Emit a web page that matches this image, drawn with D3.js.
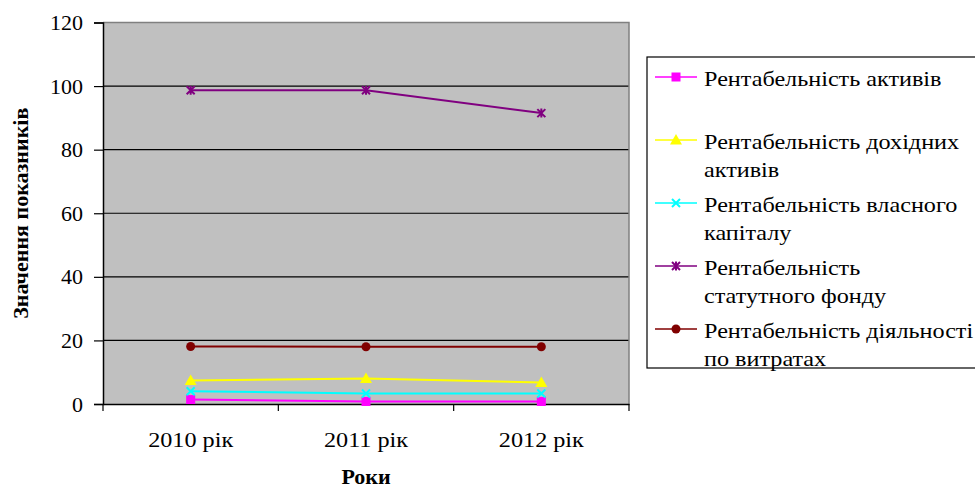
<!DOCTYPE html>
<html>
<head>
<meta charset="utf-8">
<script src="https://cdn.jsdelivr.net/npm/d3@7"></script>
<style>
  body { margin: 0; background: #fff; }
</style>
</head>
<body>
<div id="chart"></div>
<script>
// дані з діаграми
const years = ["2010 рік", "2011 рік", "2012 рік"];
const yTicks = [0, 20, 40, 60, 80, 100, 120];

const seriesNames = [
  ["Рентабельність активів"],
  ["Рентабельність дохідних", "активів"],
  ["Рентабельність власного", "капіталу"],
  ["Рентабельність", "статутного фонду"],
  ["Рентабельність діяльності", "по витратах"]
];
const rentAktyviv = [1.4, 0.8, 0.8];
const rentDohidnyh = [7.4, 8.0, 6.8];
const rentKapitalu = [4.0, 3.3, 3.3];
const rentFondu = [98.7, 98.7, 91.5];
const rentVytrat = [18.1, 18.0, 18.0];

const colors = ["#FF00FF", "#FFFF00", "#00FFFF", "#800080", "#800000"];
const markers = ["square", "triangle", "x", "star", "circle"];
const series = [rentAktyviv, rentDohidnyh, rentKapitalu, rentFondu, rentVytrat];

// Liberation Serif тут без кирилиці, тому Times
const FONT = "Times, serif";
const width = 975, height = 488;
const plot = { left: 103, top: 22.5, right: 629, bottom: 404 };

const svg = d3.select("#chart").append("svg")
  .attr("width", width)
  .attr("height", height);

const x = d3.scaleBand()
  .domain(years)
  .range([plot.left, plot.right]);

const y = d3.scaleLinear()
  .domain([0, 120])
  .range([plot.bottom, plot.top]);

// фон області побудови
svg.append("rect")
  .attr("x", plot.left).attr("y", plot.top)
  .attr("width", plot.right - plot.left)
  .attr("height", plot.bottom - plot.top)
  .attr("fill", "#C0C0C0");

// сітка
svg.append("g")
  .selectAll("line")
  .data(yTicks.filter(d => d > 0 && d < 120))
  .join("line")
  .attr("x1", plot.left).attr("x2", plot.right)
  .attr("y1", d => y(d)).attr("y2", d => y(d))
  .attr("stroke", "#000").attr("stroke-width", 1.2);

// рамка зверху і справа
svg.append("path")
  .attr("d", `M${plot.left},${plot.top}H${plot.right}V${plot.bottom}`)
  .attr("fill", "none")
  .attr("stroke", "#808080")
  .attr("stroke-width", 1.5);

// вісь Y
const yAxis = svg.append("g")
  .attr("transform", `translate(${plot.left},0)`)
  .call(d3.axisLeft(y).tickValues(yTicks).tickSize(9).tickPadding(11));
yAxis.select(".domain").attr("stroke-width", 1.5);
yAxis.selectAll(".tick line").attr("stroke-width", 1.2);
yAxis.selectAll("text")
  .style("font-family", FONT)
  .style("font-size", "22px")
  .attr("fill", "#000");

// вісь X
const xAxis = svg.append("g")
  .attr("transform", `translate(0,${plot.bottom})`)
  .call(d3.axisBottom(x).tickSize(0).tickPadding(27));
xAxis.select(".domain").attr("stroke-width", 1.5);
xAxis.selectAll("text")
  .attr("transform", "scale(1.1,1)")
  .style("font-family", FONT)
  .style("font-size", "22px")
  .attr("fill", "#000");

// поділки між категоріями
svg.append("g")
  .selectAll("line")
  .data(years.concat(["end"]))
  .join("line")
  .attr("x1", (d, i) => i < years.length ? x(d) : plot.right)
  .attr("x2", (d, i) => i < years.length ? x(d) : plot.right)
  .attr("y1", plot.bottom).attr("y2", plot.bottom + 7)
  .attr("stroke", "#000").attr("stroke-width", 1.2);

// підписи осей
svg.append("text")
  .attr("transform", `translate(28,${(plot.top + plot.bottom) / 2}) rotate(-90)`)
  .attr("text-anchor", "middle")
  .style("font-family", FONT)
  .style("font-size", "22px")
  .style("font-weight", "bold")
  .text("Значення показників");

svg.append("text")
  .attr("x", (plot.left + plot.right) / 2)
  .attr("y", 484)
  .attr("text-anchor", "middle")
  .style("font-family", FONT)
  .style("font-size", "22px")
  .style("font-weight", "bold")
  .text("Роки");

// маркери
function drawMarker(g, type, color, cx, cy) {
  if (type === "square") {
    g.append("rect").attr("x", cx - 4.5).attr("y", cy - 4.5)
      .attr("width", 9).attr("height", 9).attr("fill", color);
  } else if (type === "triangle") {
    g.append("path")
      .attr("d", `M${cx},${cy - 6}L${cx + 6},${cy + 4.5}L${cx - 6},${cy + 4.5}Z`)
      .attr("fill", color);
  } else if (type === "x") {
    g.append("path")
      .attr("d", `M${cx - 4},${cy - 4}L${cx + 4},${cy + 4}M${cx - 4},${cy + 4}L${cx + 4},${cy - 4}`)
      .attr("stroke", color).attr("stroke-width", 2);
  } else if (type === "star") {
    g.append("path")
      .attr("d", `M${cx - 4},${cy - 4}L${cx + 4},${cy + 4}M${cx - 4},${cy + 4}L${cx + 4},${cy - 4}M${cx},${cy - 4.5}V${cy + 4.5}`)
      .attr("stroke", color).attr("stroke-width", 2);
  } else {
    g.append("circle").attr("cx", cx).attr("cy", cy).attr("r", 4.5).attr("fill", color);
  }
}

const line = d3.line()
  .x((d, i) => x(years[i]) + x.bandwidth() / 2)
  .y(d => y(d));

series.forEach((vals, s) => {
  const g = svg.append("g");
  g.append("path")
    .datum(vals)
    .attr("d", line)
    .attr("fill", "none")
    .attr("stroke", colors[s])
    .attr("stroke-width", 2);
  vals.forEach((v, i) => {
    drawMarker(g, markers[s], colors[s], x(years[i]) + x.bandwidth() / 2, y(v));
  });
});

// легенда
const legend = svg.append("g");
legend.append("rect")
  .attr("x", 647).attr("y", 57)
  .attr("width", 340).attr("height", 311)
  .attr("fill", "#fff")
  .attr("stroke", "#000").attr("stroke-width", 1.2);

const legendY = [77, 140, 203, 266, 329];
seriesNames.forEach((lines, s) => {
  const ly = legendY[s];
  legend.append("line")
    .attr("x1", 655).attr("x2", 697)
    .attr("y1", ly).attr("y2", ly)
    .attr("stroke", colors[s]).attr("stroke-width", 1.5);
  drawMarker(legend, markers[s], colors[s], 676, ly);
  lines.forEach((t, j) => {
    legend.append("text")
      .attr("transform", `translate(704,${ly + 9 + j * 28}) scale(1.1,1)`)
      .style("font-family", FONT)
      .style("font-size", "22px")
      .text(t);
  });
});
</script>
</body>
</html>
